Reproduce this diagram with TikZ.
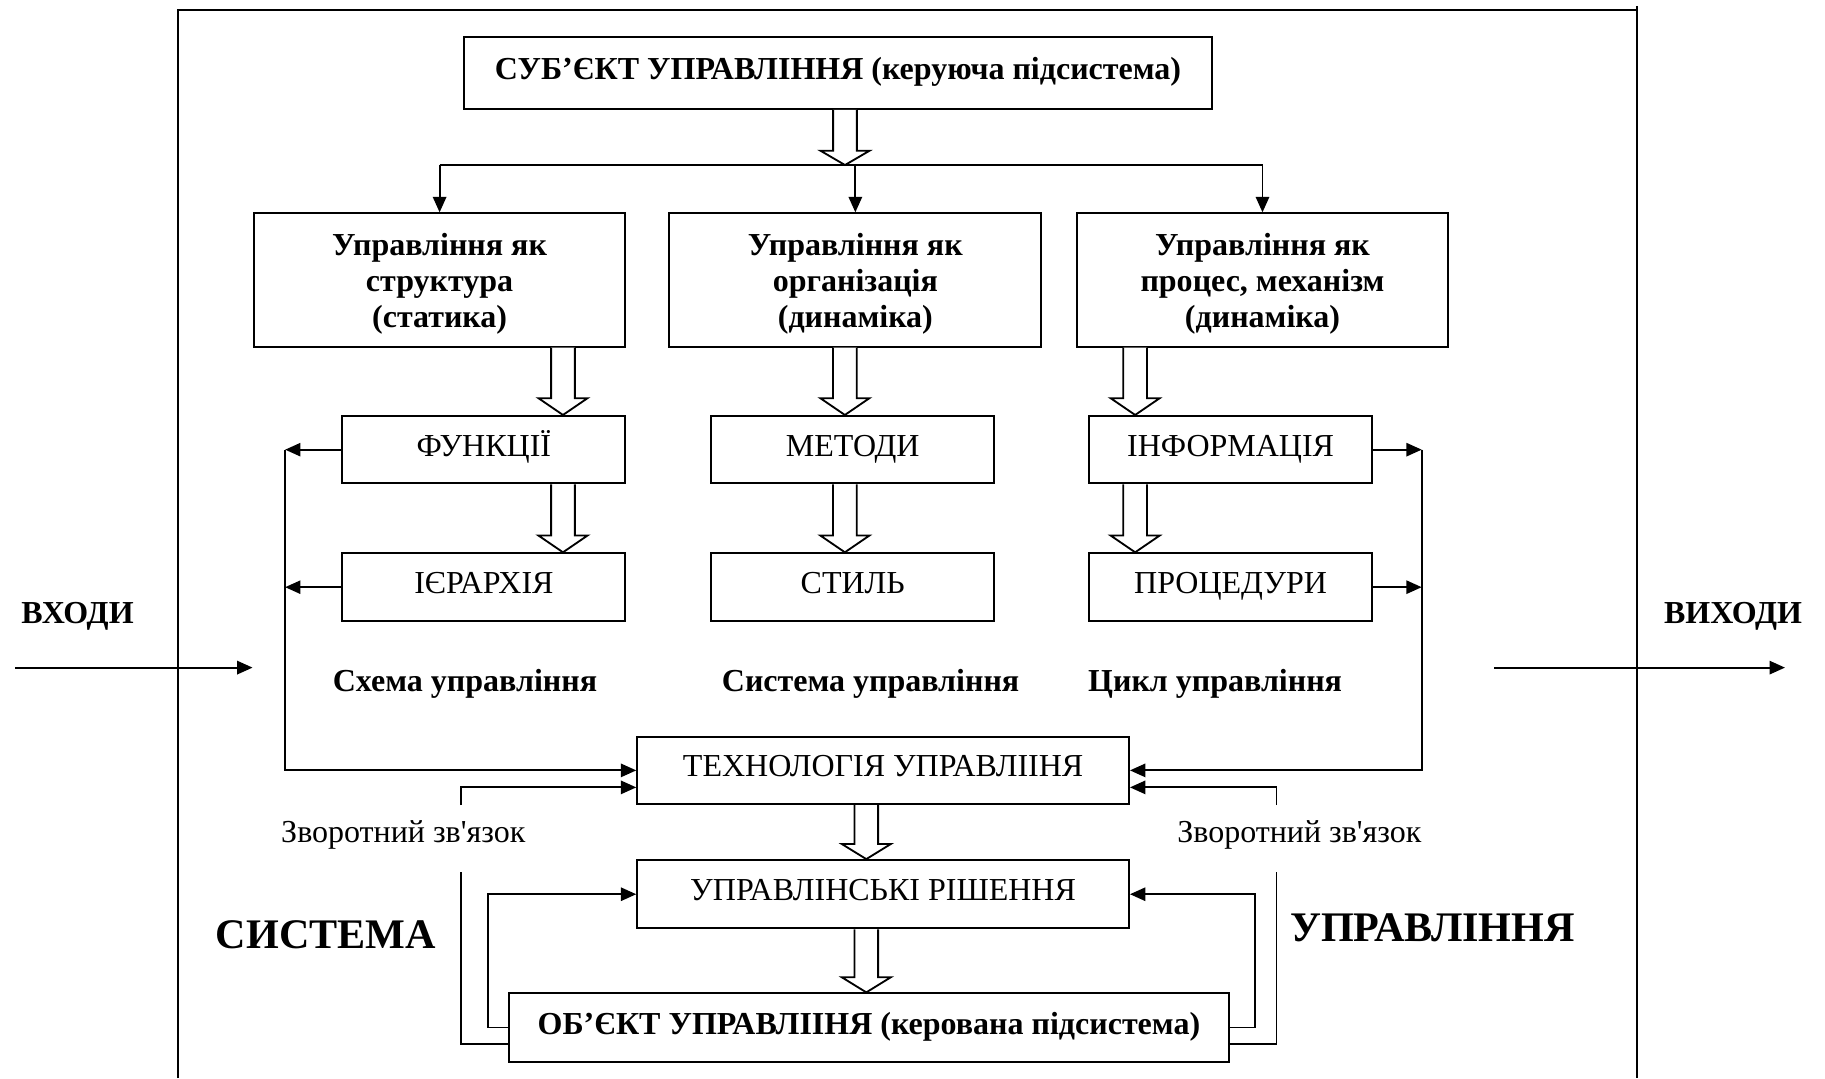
\documentclass[tikz,border=0pt]{standalone}
\usepackage{fontspec}
\setmainfont{Liberation Serif}
\usetikzlibrary{arrows.meta,calc}
\newcommand\fnorm{\fontsize{15.65pt}{17.6pt}\selectfont}
\newcommand\fbig{\fontsize{20.6pt}{24pt}\selectfont\bfseries}
% wide hollow block arrow: #1 = x position, #2 = start point, #3 = tip point, #4 = head length
\newcommand\harrow[4]{%
  \draw[hollow] let \p1=(#1,0 |- #2), \p2=(#1,0 |- #3) in
    ({\x1-5.8pt},\y1) -- ({\x1-5.8pt},{\y2+#4}) -- ({\x1-12pt},{\y2+#4})
    -- (\x2,\y2) -- ({\x1+12pt},{\y2+#4}) -- ({\x1+5.8pt},{\y2+#4})
    -- ({\x1+5.8pt},\y1);}
\begin{document}
\begin{tikzpicture}[x=0.02cm,y=-0.02cm,
  cbox/.style={draw,line width=1pt,inner sep=0pt,align=center,font=\fnorm},
  bold/.style={font=\fnorm\bfseries},
  one/.style={text height=0.86em,text depth=0.22em},
  three/.style={text depth=-1.5pt},
  wire/.style={line width=0.9pt},
  arr/.style={line width=0.9pt,-{Triangle[length=7.5pt,width=6.5pt]}},
  hollow/.style={fill=white,line width=0.9pt,line join=miter},
  lbl/.style={inner sep=0pt,anchor=base,font=\fnorm},
  biglbl/.style={inner sep=0pt,anchor=base,font=\fbig}]
\useasboundingbox (0,0) rectangle (1568,926.2);

% outer frame of the system
\draw[line width=1pt] (152.9,926.2) -- (152.9,8.6) -- (1406.6,8.6);
\draw[line width=1pt] (1406.6,5) -- (1406.6,926.2);

% subject of management
\node[cbox,bold,one,text height=0.9em,minimum width=12.856cm,minimum height=1.242cm] (subj) at (720,62.55)
  {СУБ’ЄКТ УПРАВЛІННЯ (керуюча підсистема)};

% three views of management
\node[cbox,bold,three,minimum width=6.388cm,minimum height=2.292cm] (bA) at (377.7,240.6)
  {Управління як\\структура\\(статика)};
\node[cbox,bold,three,minimum width=6.392cm,minimum height=2.292cm] (bB) at (734.9,240.6)
  {Управління як\\організація\\(динаміка)};
\node[cbox,bold,three,minimum width=6.392cm,minimum height=2.292cm] (bC) at (1084.7,240.6)
  {Управління як\\процес, механізм\\(динаміка)};

% second and third rows
\node[cbox,one,minimum width=4.866cm,minimum height=1.158cm] (fun) at (415.75,386.35) {ФУНКЦІЇ};
\node[cbox,one,minimum width=4.87cm,minimum height=1.158cm] (met) at (732.65,386.35) {МЕТОДИ};
\node[cbox,one,minimum width=4.856cm,minimum height=1.158cm] (inf) at (1057.3,386.35) {ІНФОРМАЦІЯ};
\node[cbox,one,minimum width=4.866cm,minimum height=1.164cm] (ier) at (415.75,504.5) {ІЄРАРХІЯ};
\node[cbox,one,minimum width=4.87cm,minimum height=1.164cm] (sty) at (732.65,504.5) {СТИЛЬ};
\node[cbox,one,minimum width=4.856cm,minimum height=1.164cm] (pro) at (1057.3,504.5) {ПРОЦЕДУРИ};

% lower chain
\node[cbox,one,minimum width=8.45cm,minimum height=1.156cm] (tech) at (758.75,661.9) {ТЕХНОЛОГІЯ УПРАВЛІІНЯ};
\node[cbox,one,minimum width=8.45cm,minimum height=1.172cm] (upr) at (758.75,768.3) {УПРАВЛІНСЬКІ РІШЕННЯ};
\node[cbox,bold,one,minimum width=12.362cm,minimum height=1.174cm] (obj) at (746.55,882.85)
  {ОБ’ЄКТ УПРАВЛІІНЯ (керована підсистема)};

% distribution bus under the subject
\coordinate (bus) at (726,141.8);
\draw[line width=1.3pt] (bA.north |- bus) -- (bC.north |- bus);
\draw[arr] (bA.north |- bus) -- (bA.north);
\draw[arr] (bB.north |- bus) -- (bB.north);
\draw[arr] (bC.north |- bus) -- (bC.north);

% block arrows
\harrow{726}{subj.south}{bus}{7pt}
\harrow{483.7}{bA.south}{fun.north}{8.2pt}
\harrow{483.7}{fun.south}{ier.north}{8.2pt}
\harrow{725.9}{bB.south}{met.north}{8.2pt}
\harrow{725.9}{met.south}{sty.north}{8.2pt}
\harrow{975.3}{bC.south}{inf.north}{8.2pt}
\harrow{975.3}{inf.south}{pro.north}{8.2pt}
\harrow{744.3}{tech.south}{upr.north}{7.4pt}
\harrow{744.3}{upr.south}{obj.north}{7.4pt}

% side collectors into the technology box
\coordinate (lx) at (245,0);
\coordinate (rx) at (1221.5,0);
\draw[arr] (fun.west) -- (fun.west -| lx);
\draw[arr] (ier.west) -- (ier.west -| lx);
\draw[arr] (fun.west -| lx) -- (tech.west -| lx) -- (tech.west);
\draw[arr] (inf.east) -- (inf.east -| rx);
\draw[arr] (pro.east) -- (pro.east -| rx);
\draw[arr] (inf.east -| rx) -- (tech.east -| rx) -- (tech.east);

% feedback loops
\coordinate (fbL) at (396,749.5);
\coordinate (fbR) at (1096.7,749.5);
\draw[arr] (fbL |- tech.south) |- ([yshift=-0.292cm]tech.west);
\draw[arr] (fbR |- tech.south) |- ([yshift=-0.292cm]tech.east);
\draw[wire] (fbL) |- ([yshift=-0.283cm]obj.west);
\draw[wire] (fbR) |- ([yshift=-0.283cm]obj.east);
\draw[arr] (obj.west) -- ++(-17.3,0) |- (upr.west);
\draw[arr] (obj.east) -- ++(21.8,0) |- (upr.east);

% inputs and outputs
\node[lbl,bold] (inp) at (66.6,535.5) {ВХОДИ};
\node[lbl,bold] (outp) at (1489,535.5) {ВИХОДИ};
\coordinate (inS) at (13.3,573.6);
\coordinate (inE) at (217,573.6);
\coordinate (outS) at (1283.6,573.6);
\coordinate (outE) at (1533.6,573.6);
\draw[arr] (inS) -- (inE);
\draw[arr] (outS) -- (outE);

% captions
\node[lbl,bold] (capA) at (399.5,594.3) {Схема управління};
\node[lbl,bold] (capB) at (748,594.3) {Система управління};
\node[lbl,bold] (capC) at (1044,594.3) {Цикл управління};
\node[lbl] (fbtL) at (346.5,724) {Зворотний зв\textquotesingle язок};
\node[lbl] (fbtR) at (1116.4,724) {Зворотний зв\textquotesingle язок};
\node[biglbl] (sys) at (280,814.8) {СИСТЕМА};
\node[biglbl] (mgmt) at (1230.7,809) {УПРАВЛІННЯ};
\end{tikzpicture}
\end{document}
